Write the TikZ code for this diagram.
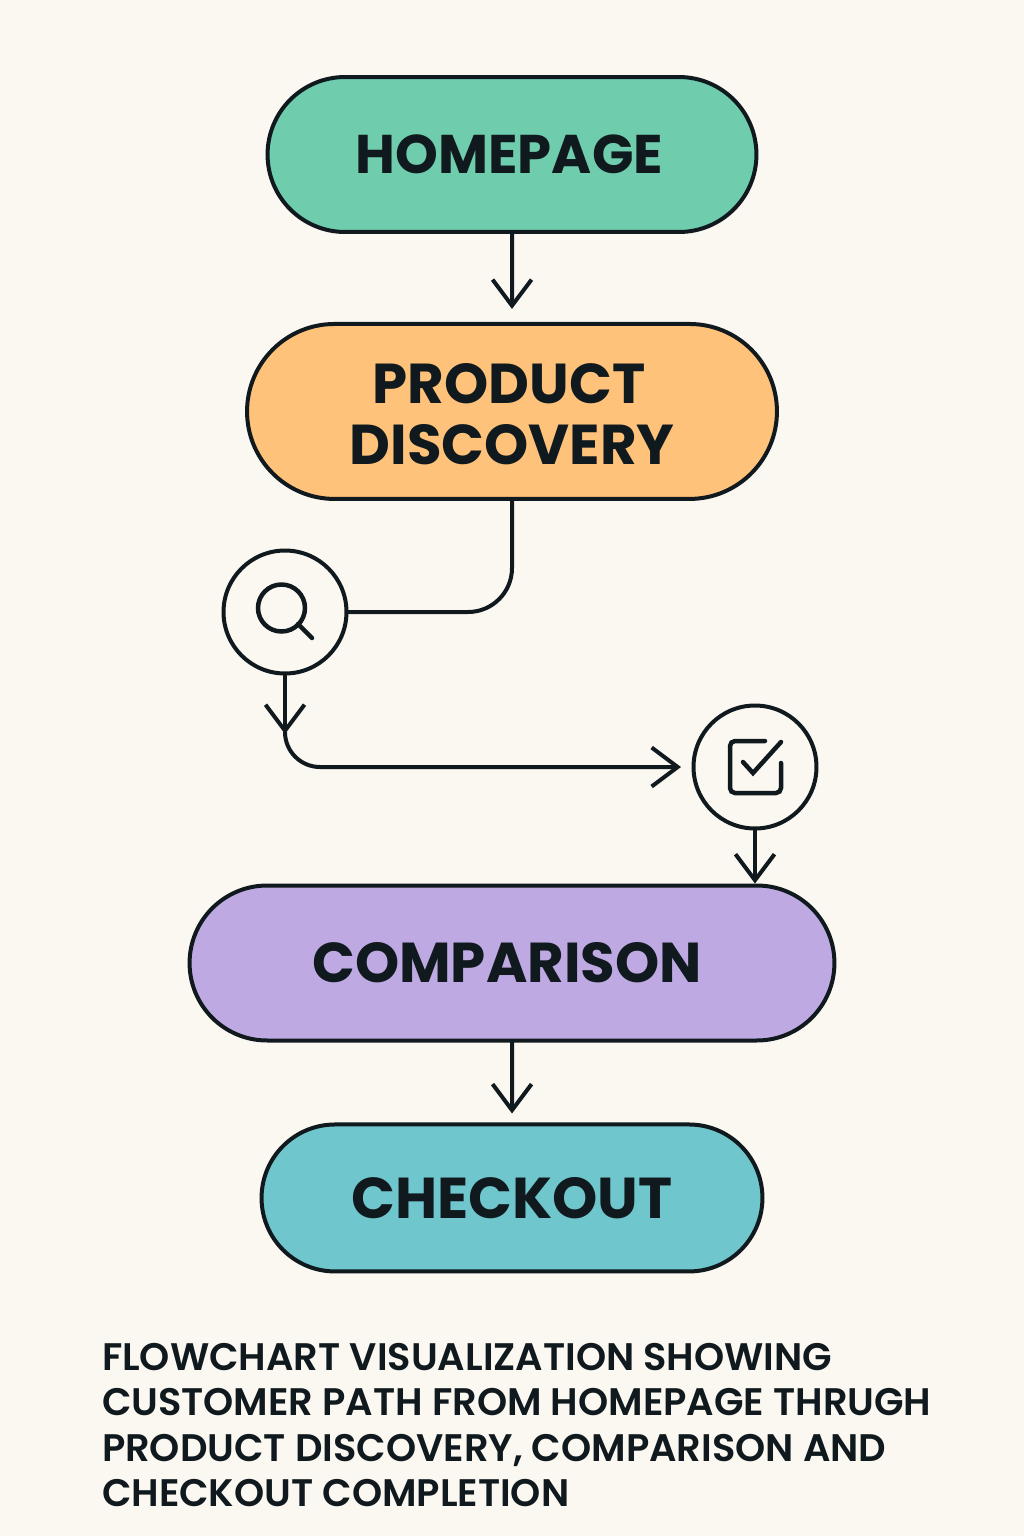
\documentclass[tikz,border=0pt]{standalone}
\usepackage{fontspec}
\setmainfont{Poppins}
\newfontfamily\notefont{Poppins SemiBold}
\usetikzlibrary{arrows.meta,positioning,shapes.misc}
\definecolor{paper}{HTML}{FBF8F2}
\definecolor{ink}{HTML}{101A1E}
\definecolor{tealfill}{HTML}{6FCDAE}
\definecolor{orangefill}{HTML}{FFC27A}
\definecolor{purplefill}{HTML}{BFA9E3}
\definecolor{cyanfill}{HTML}{6FC6CC}
\begin{document}
\begin{tikzpicture}[x=0.02cm, y=-0.02cm, node distance=1.76cm, auto,
	>={Straight Barb[length=0.52cm,width=0.78cm,line width=0.08cm]},
	line width=0.08cm, draw=ink, line cap=round,
	stage/.style={rounded rectangle,draw=ink,text=ink,align=center,font=\fontsize{32}{34.5}\selectfont\bfseries,inner sep=0pt},
	iconcircle/.style={circle,draw=ink,minimum size=2.46cm,inner sep=0pt},
	icon/.style={line width=0.09cm},
	caption/.style={anchor=north west,align=left,inner sep=0pt,text=ink,font=\notefont\fontsize{21.85}{25.9}\selectfont}]
	\useasboundingbox (0,0) rectangle (1024,1536);
	\fill[paper] (0,0) rectangle (1024,1536);
	\node[stage,fill=tealfill,minimum width=9.78cm,minimum height=3.1cm,font=\fontsize{31}{34.5}\selectfont\bfseries] (homepage) at (512,154.5) {HOMEPAGE\kern 0.1cm};
	\node[stage,fill=orangefill,minimum width=10.6cm,minimum height=3.5cm] (product) [below = of homepage] {\rule{0pt}{0.9cm}PRODUCT\kern 0.12cm\\DISCOVERY};
	\node[iconcircle] (search) at (285,612) {};
	\node[iconcircle] (check) at (755,767) {};
	\node[stage,fill=purplefill,minimum width=12.9cm,minimum height=3.1cm] (comparison) at (512,963) {COMPARISON\kern 0.2cm};
	\node[stage,fill=cyanfill,minimum width=10.02cm,minimum height=2.94cm,font=\fontsize{32.8}{34.5}\selectfont\bfseries] (checkout) [below = 1.6cm of comparison] {CHECKOUT};
	\coordinate (bend) at (285,734);
	\coordinate (entry) at (681,767);
	\path[->,draw=ink,shorten >=0.26cm] (homepage) edge (product);
	\draw[rounded corners=0.88cm] (product.south) |- (search.east);
	\path[->,draw=ink] (search) edge (bend);
	\draw[->,rounded corners=0.7cm] (bend) |- (entry);
	\path[->,draw=ink] (check) edge (check |- comparison.north);
	\path[->,draw=ink,shorten >=0.18cm] (comparison) edge (checkout);
	% icons
	\draw[icon] (281.5,608) circle [radius=0.47cm];
	\draw[icon] (298,624) -- (312,638);
	\draw[icon,rounded corners=0.1cm] (765,741) -- (730,741) -- (730,793) -- (781,793) -- (781,763);
	\draw[icon] (743,762) -- (753,773) -- (781,742);
	\node[caption] (note) at (100,1341) {FLOWCHART VISUALIZATION SHOWING\\CUSTOMER PATH FROM HOMEPAGE THRUGH\\PRODUCT DISCOVERY, COMPARISON AND\\CHECKOUT COMPLETION};
\end{tikzpicture}
\end{document}
